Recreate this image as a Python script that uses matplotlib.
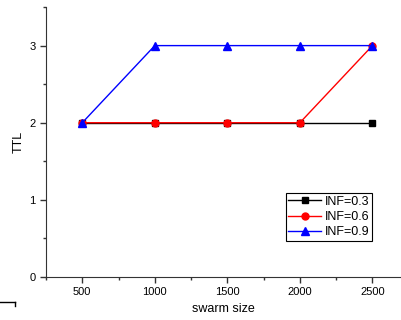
import matplotlib
matplotlib.use('Agg')
import matplotlib.pyplot as plt
from matplotlib.lines import Line2D
from matplotlib.ticker import MultipleLocator

plt.rcParams['font.family'] = ['Liberation Sans', 'DejaVu Sans']

swarm_size = [500, 1000, 1500, 2000, 2500]
ttl_03 = [2, 2, 2, 2, 2]
ttl_06 = [2, 2, 2, 2, 3]
ttl_09 = [2, 3, 3, 3, 3]

fig = plt.figure(figsize=(4.01, 3.2), dpi=100)
ax = fig.add_axes([0.1147, 0.1344, 0.8828, 0.8436])

ax.plot(swarm_size, ttl_03, color='black', marker='s', markersize=4.5, lw=1, label='INF=0.3')
ax.plot(swarm_size, ttl_06, color='red', marker='o', markersize=5, lw=1, label='INF=0.6')
ax.plot(swarm_size, ttl_09, color='blue', marker='^', markersize=5.5, lw=1, label='INF=0.9')

ax.set_xlim(250, 2690)
ax.set_ylim(0, 3.5)
ax.xaxis.set_major_locator(MultipleLocator(500))
ax.xaxis.set_minor_locator(MultipleLocator(250))
ax.yaxis.set_major_locator(MultipleLocator(1))
ax.yaxis.set_minor_locator(MultipleLocator(0.5))
ax.tick_params(which='major', direction='out', length=4, width=1, labelsize=8, colors='#333333', labelcolor='black')
ax.tick_params(which='minor', direction='out', length=2.5, width=1, colors='#333333')
ax.spines['top'].set_visible(False)
ax.spines['right'].set_visible(False)
ax.spines['left'].set_color('#333333')
ax.spines['bottom'].set_color('#333333')

ax.set_xlabel('swarm size', fontsize=9, labelpad=4)
ax.set_ylabel('TTL', fontsize=9, labelpad=3)

leg = ax.legend(loc='lower right', bbox_to_anchor=(0.92, 0.135), fontsize=9,
                fancybox=False, framealpha=1, edgecolor='black', borderpad=0.2,
                labelspacing=0.25, handlelength=2.6, handletextpad=0.3, borderaxespad=0)
leg.get_frame().set_linewidth(0.8)

# small corner mark at bottom left
fig.add_artist(Line2D([0, 0.037], [0.055, 0.055], color='black', lw=1))
fig.add_artist(Line2D([0.037, 0.037], [0.055, 0.043], color='black', lw=1))

fig.savefig('out.png', dpi=100)
